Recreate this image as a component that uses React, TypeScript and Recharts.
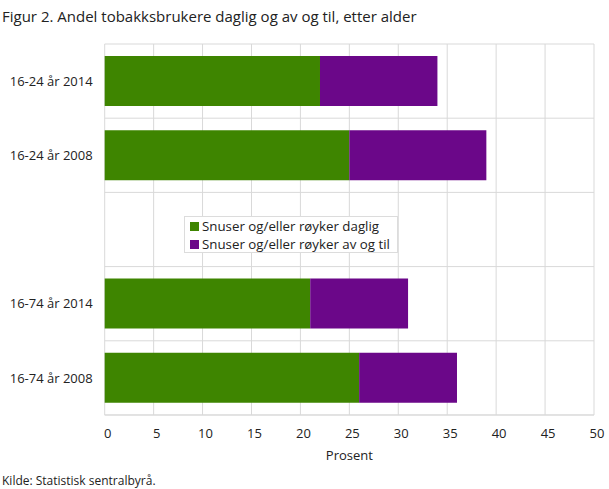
import React from 'react';
import { BarChart, Bar, XAxis, YAxis, CartesianGrid } from 'recharts';

const categories = ['16-24 år 2014', '16-24 år 2008', '', '16-74 år 2014', '16-74 år 2008'];
const daily = [22, 25, null, 21, 26];
const occasional = [12, 14, null, 10, 10];
const xTicks = [0, 5, 10, 15, 20, 25, 30, 35, 40, 45, 50];

const seriesNames = ['Snuser og/eller røyker daglig', 'Snuser og/eller røyker av og til'];
const colors = ['#3e8500', '#6b0789'];

const data = categories.map((c, i) => ({ name: c, daily: daily[i], occasional: occasional[i] }));

const font = '"Open Sans", sans-serif';

// legend sits in the empty category slot, so it is plain html on top of the chart
const LegendBox = () => (
  <div
    style={{
      position: 'absolute',
      left: 184,
      top: 216,
      width: 214,
      height: 37,
      boxSizing: 'border-box',
      border: '1px solid #dcdcdc',
      background: '#fff',
      padding: '0 0 0 5px',
      fontFamily: font,
      fontSize: 13.3,
      color: '#222',
      lineHeight: '18px',
    }}
  >
    {seriesNames.map((n, i) => (
      <div key={n} style={{ display: 'flex', alignItems: 'center', whiteSpace: 'nowrap' }}>
        <span style={{ width: 9, height: 9, background: colors[i], marginRight: 3, display: 'inline-block' }} />
        {n}
      </div>
    ))}
  </div>
);

export default function App() {
  return (
    <div style={{ position: 'absolute', top: 0, left: 0, width: 609, height: 489, background: '#fff' }}>
      <div
        style={{
          position: 'absolute',
          left: 2,
          top: 6,
          fontFamily: font,
          fontSize: 15,
          color: '#222',
          whiteSpace: 'nowrap',
        }}
      >
        Figur 2. Andel tobakksbrukere daglig og av og til, etter alder
      </div>
      <div style={{ position: 'absolute', top: 0, left: 0 }}>
        <BarChart
          width={609}
          height={489}
          data={data}
          layout="vertical"
          margin={{ top: 44, right: 15, bottom: 34, left: 0 }}
          barSize={50}
        >
          <CartesianGrid
            stroke="#d9d9d9"
            horizontalCoordinatesGenerator={({ offset }: any) =>
              categories.concat(['']).map((_, i) => offset.top + (i * offset.height) / categories.length)
            }
          />
          <XAxis
            type="number"
            domain={[0, 50]}
            ticks={xTicks}
            axisLine={{ stroke: '#d9d9d9' }}
            tickLine={false}
            tick={{ fill: '#222', fontSize: 13, fontFamily: font, dx: 3, dy: 6 }}
            height={40}
            label={{ value: 'Prosent', position: 'insideBottom', offset: -5, fill: '#222', fontSize: 13, fontFamily: font }}
          />
          <YAxis
            type="category"
            dataKey="name"
            width={104.7}
            axisLine={false}
            tickLine={false}
            tick={{ fill: '#222', fontSize: 13, fontFamily: font, dx: -4 }}
          />
          <Bar dataKey="daily" stackId="a" fill={colors[0]} name={seriesNames[0]} isAnimationActive={false} />
          <Bar dataKey="occasional" stackId="a" fill={colors[1]} name={seriesNames[1]} isAnimationActive={false} />
        </BarChart>
      </div>
      <LegendBox />
      <div
        style={{
          position: 'absolute',
          left: 2,
          top: 472,
          fontFamily: font,
          fontSize: 12,
          color: '#222',
          whiteSpace: 'nowrap',
        }}
      >
        Kilde: Statistisk sentralbyrå.
      </div>
    </div>
  );
}
